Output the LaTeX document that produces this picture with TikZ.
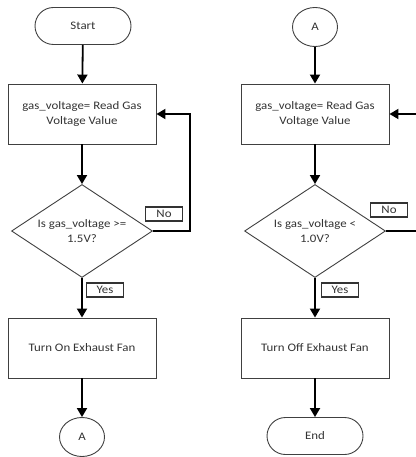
\documentclass[tikz,border=0pt]{standalone}
\usepackage{fontspec}
\setmainfont{Carlito}[FakeStretch=1.12]
\usetikzlibrary{shapes.geometric,arrows.meta}
\tikzset{
  base/.style={draw=black!75, line width=0.9pt, text=black!80, font=\fontsize{11.5}{15}\selectfont, align=center},
  process/.style={base, rectangle, minimum width=148pt, minimum height=60pt, inner sep=0pt},
  terminal/.style={base, rectangle, rounded corners=18.5pt, minimum width=96pt, minimum height=37pt, inner sep=0pt},
  connector/.style={base, ellipse, minimum width=45pt, minimum height=39pt, inner sep=0pt},
  decision/.style={base, diamond, aspect=1.52, minimum width=141pt, minimum height=93pt, inner sep=0pt},
  tag/.style={base, draw=black!80, line width=1.1pt, rectangle, minimum width=37pt, minimum height=14pt, inner sep=0pt},
  flow/.style={draw=black, line width=1.8pt, -{Triangle[width=10pt,length=9pt]}},
  plain/.style={draw=black, line width=1.8pt}
}
\begin{document}
\begin{tikzpicture}[x=1pt,y=-1pt]
  \useasboundingbox (0,0) rectangle (415,457);

  % left column: turning the fan on
  \node[terminal]  (start) at (83,26)   {Start};
  \node[process]   (read1) at (82,114)  {gas\_voltage= Read Gas\\Voltage Value};
  \node[decision]  (dec1)  at (82,231)  {Is gas\_voltage >=\\1.5V?};
  \node[process]   (fan1)  at (82,348)  {Turn On Exhaust Fan};
  \node[connector] (a1)    at (82,437)  {A};
  \node[tag]       (no1)   at (164,214) {No};
  \node[tag]       (yes1)  at (105,290) {Yes};
  \coordinate (loop1) at (190,170);

  \draw[flow] (start) -- (read1);
  \draw[flow] (read1) -- (dec1);
  \draw[flow] (dec1) -- (fan1);
  \draw[flow] (fan1) -- (a1);
  \draw[flow] (dec1.east) -| (loop1) |- (read1.east);

  % right column: turning the fan off
  \node[connector] (a2)    at (315,27)  {A};
  \node[process]   (read2) at (315,114) {gas\_voltage= Read Gas\\Voltage Value};
  \node[decision]  (dec2)  at (315,231) {Is gas\_voltage <\\1.0V?};
  \node[process]   (fan2)  at (315,348) {Turn Off Exhaust Fan};
  \node[terminal]  (end)   at (315,436) {End};
  \node[tag]       (no2)   at (389,210) {No};
  \node[tag]       (yes2)  at (340,290) {Yes};
  \coordinate (inR)  at (420,114);
  \coordinate (outR) at (420,231);

  \draw[flow] (a2) -- (read2);
  \draw[flow] (read2) -- (dec2);
  \draw[flow] (dec2) -- (fan2);
  \draw[flow] (fan2) -- (end);
  \draw[flow] (inR) -- (read2.east);
  \draw[plain] (dec2.east) -- (outR);
\end{tikzpicture}
\end{document}
